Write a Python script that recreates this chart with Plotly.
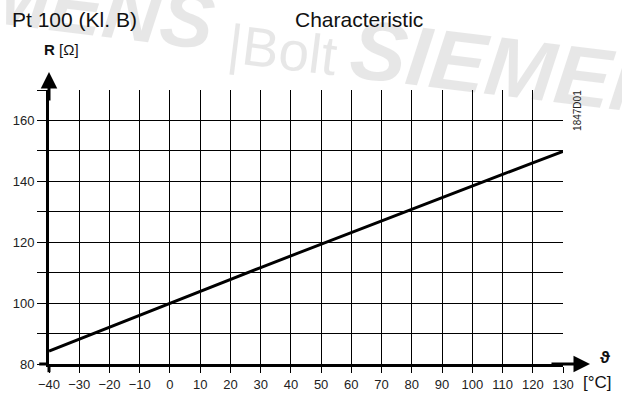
import plotly.graph_objects as go

# Pt 100 resistance characteristic (IEC 60751, class B)
temperature_c = [-40, -30, -20, -10, 0, 10, 20, 30, 40, 50, 60, 70, 80, 90, 100, 110, 120, 130]
resistance_ohm = [84.27, 88.22, 92.16, 96.09, 100.00, 103.90, 107.79, 111.67, 115.54,
                  119.40, 123.24, 127.08, 130.90, 134.71, 138.51, 142.29, 146.07, 149.83]

x_ticks = list(range(-40, 131, 10))
x_tick_text = [str(v).replace("-", "\u2212") for v in x_ticks]
y_ticks = list(range(80, 171, 10))
y_tick_text = [str(v) if v % 20 == 0 and v < 170 else "" for v in y_ticks]

FONT = "Liberation Sans, Arial, sans-serif"

fig = go.Figure()
fig.add_trace(go.Scatter(
    x=temperature_c, y=resistance_ohm, mode="lines",
    line=dict(color="black", width=3), hoverinfo="skip", showlegend=False,
))

axis_common = dict(
    showgrid=True, gridcolor="black", gridwidth=1.3,
    zeroline=False, showline=True, linecolor="black", linewidth=3,
    ticks="outside", tickcolor="black", tickwidth=1.3,
    tickfont=dict(family=FONT, size=13, color="#222"),
    fixedrange=True, automargin=False,
)

fig.update_xaxes(range=[-40, 130], tickvals=x_ticks, ticktext=x_tick_text,
                 ticklen=6, **axis_common)
fig.update_yaxes(range=[80, 170], tickvals=y_ticks, ticktext=y_tick_text,
                 ticklen=9, **axis_common)


def label(text, x, y, size, angle=0, color="#111", opacity=1.0, xanchor="center"):
    return dict(xref="paper", yref="paper", x=x, y=y, xanchor=xanchor, yanchor="middle",
                showarrow=False, text=text, textangle=angle, opacity=opacity,
                font=dict(family=FONT, size=size, color=color))


annotations = [
    # faint background watermark
    label("<b><i>SIEMENS</i></b>", -0.027, 1.328, 80, angle=7, color="black", opacity=0.09),
    label("|Bolt", 0.455, 1.146, 55, angle=7, color="black", opacity=0.09),
    label("<b><i>SIEMENS</i></b>", 0.954, 1.07, 84, angle=7, color="black", opacity=0.09),
    # titles
    label("Pt 100 (Kl. B)", -0.0759, 1.259, 21, xanchor="left"),
    label("Characteristic", 0.4747, 1.259, 21, xanchor="left"),
    # axis names
    label("<b>R</b> [\u03a9]", -0.0136, 1.146, 15, xanchor="left"),
    label("<b>\u03d1</b>", 1.0817, 0.022, 17),
    label("[\u00b0C]", 1.068, -0.0693, 17),
    # drawing number
    label("1847D01", 1.027, 0.927, 10, angle=-90, color="#222"),
    # axis arrows
    dict(xref="paper", yref="paper", x=0, y=1.0657, ax=0, ay=30,
         axref="pixel", ayref="pixel", showarrow=True, text="",
         arrowhead=2, arrowsize=1.1, arrowwidth=3, arrowcolor="black"),
    dict(xref="paper", yref="paper", x=1.0525, y=0, ax=-40, ay=0,
         axref="pixel", ayref="pixel", showarrow=True, text="",
         arrowhead=2, arrowsize=1.1, arrowwidth=3, arrowcolor="black"),
]

fig.update_layout(
    width=622, height=394,
    margin=dict(l=49, r=59, t=90, b=30, autoexpand=False),
    paper_bgcolor="white", plot_bgcolor="rgba(0,0,0,0)",
    annotations=annotations,
    shapes=[
        # short stubs where the axes cross
        dict(type="line", xref="paper", yref="paper", x0=0, x1=0, y0=-0.03, y1=0,
             line=dict(color="black", width=3)),
        dict(type="line", xref="paper", yref="paper", x0=-0.019, x1=0, y0=0, y1=0,
             line=dict(color="black", width=3)),
    ],
)

fig.write_html("out.html")
